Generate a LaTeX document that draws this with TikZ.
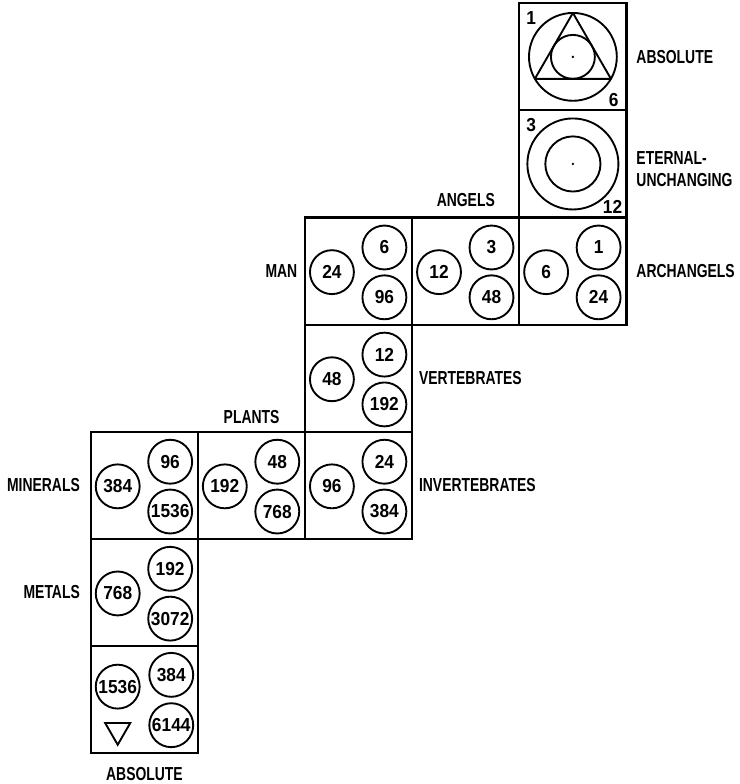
\documentclass[tikz,border=0pt]{standalone}
\usepackage{fontspec}
\newfontfamily\lblfont{Liberation Sans}[FakeStretch=0.74]
\newfontfamily\numfont{Liberation Sans}[FakeStretch=0.92]
\usetikzlibrary{shapes.geometric, positioning}

\begin{document}
\begin{tikzpicture}[
    x=2cm, y=2cm,
    cell/.style={rectangle, draw, line width=1.15pt, minimum size=2cm, inner sep=0pt, outer sep=0pt},
    num/.style={circle, draw, line width=1pt, minimum size=0.82cm, inner sep=0pt, font=\numfont\bfseries\fontsize{10}{11}\selectfont},
    ring/.style={circle, draw, line width=1pt, inner sep=0pt},
    lbl/.style={inner sep=0pt, align=left, font=\lblfont\bfseries\fontsize{10}{11.5}\selectfont},
    corner/.style={inner sep=0pt, font=\numfont\bfseries\fontsize{10}{11}\selectfont}
]
\useasboundingbox (-0.849,-0.289) rectangle (6.054,7.031);

% the staircase of cells
\node[cell] (absBot) at (0.5,0.5) {};
\node[cell, above=0pt of absBot] (metals) {};
\node[cell, above=0pt of metals] (minerals) {};
\node[cell, right=0pt of minerals] (plants) {};
\node[cell, right=0pt of plants] (invert) {};
\node[cell, above=0pt of invert] (vert) {};
\node[cell, above=0pt of vert] (man) {};
\node[cell, right=0pt of man] (angels) {};
\node[cell, right=0pt of angels] (archang) {};
\node[cell, above=0pt of archang] (eternal) {};
\node[cell, above=0pt of eternal] (absTop) {};

% three numbers per cell
\foreach \c/\l/\t/\b in {metals/768/192/3072, minerals/384/96/1536, plants/192/48/768,
    invert/96/24/384, vert/48/12/192, man/24/6/96, angels/12/3/48, archang/6/1/24} {
  \node[num] (\c-l) at ([shift={(-0.5cm,-0.02cm)}]\c.center) {\l};
  \node[num] (\c-t) at ([shift={(0.48cm,0.44cm)}]\c.center) {\t};
  \node[num] (\c-b) at ([shift={(0.48cm,-0.49cm)}]\c.center) {\b};
}

% bottom absolute
\node[num] (absBot-l) at ([shift={(-0.5cm,0.24cm)}]absBot.center) {1536};
\node[num] (absBot-t) at ([shift={(0.5cm,0.46cm)}]absBot.center) {384};
\node[num] (absBot-b) at ([shift={(0.5cm,-0.48cm)}]absBot.center) {6144};
\node[regular polygon, regular polygon sides=3, shape border rotate=180, draw, line width=1pt,
    minimum size=0.54cm, inner sep=0pt] (absBot-tri) at ([shift={(-0.5cm,-0.575cm)}]absBot.center) {};

% eternal-unchanging
\node[ring, minimum size=1.7cm] (eternal-o) at (eternal.center) {};
\node[ring, minimum size=1.03cm] (eternal-i) at (eternal.center) {};
\fill (eternal.center) circle (0.7pt);
\node[corner] (eternal-n1) at ([shift={(-0.78cm,0.72cm)}]eternal.center) {3};
\node[corner] (eternal-n2) at ([shift={(0.74cm,-0.81cm)}]eternal.center) {12};

% top absolute
\node[ring, minimum size=1.64cm] (absTop-o) at (absTop.center) {};
\node[regular polygon, regular polygon sides=3, draw, line width=1pt, line join=round,
    minimum size=1.64cm, inner sep=0pt] (absTop-tri) at (absTop.center) {};
\node[ring, minimum size=0.82cm] (absTop-i) at (absTop.center) {};
\fill (absTop.center) circle (0.7pt);
\node[corner] (absTop-n1) at ([shift={(-0.78cm,0.72cm)}]absTop.center) {1};
\node[corner] (absTop-n2) at ([shift={(0.76cm,-0.81cm)}]absTop.center) {6};

% labels
\node[lbl, right=0.18cm of absTop] (absTop-lbl) {ABSOLUTE};
\node[lbl, right=0.18cm of eternal, yshift=-0.1cm] (eternal-lbl) {ETERNAL-\\UNCHANGING};
\node[lbl, above=0.2cm of angels] (angels-lbl) {ANGELS};
\node[lbl, left=0.14cm of man] (man-lbl) {MAN};
\node[lbl, right=0.18cm of archang] (archang-lbl) {ARCHANGELS};
\node[lbl, right=0.12cm of vert] (vert-lbl) {VERTEBRATES};
\node[lbl, right=0.12cm of invert] (invert-lbl) {INVERTEBRATES};
\node[lbl, above=0.15cm of plants] (plants-lbl) {PLANTS};
\node[lbl, left=0.2cm of minerals] (minerals-lbl) {MINERALS};
\node[lbl, left=0.2cm of metals] (metals-lbl) {METALS};
\node[lbl, below=0.26cm of absBot] (absBot-lbl) {ABSOLUTE};
\end{tikzpicture}
\end{document}
